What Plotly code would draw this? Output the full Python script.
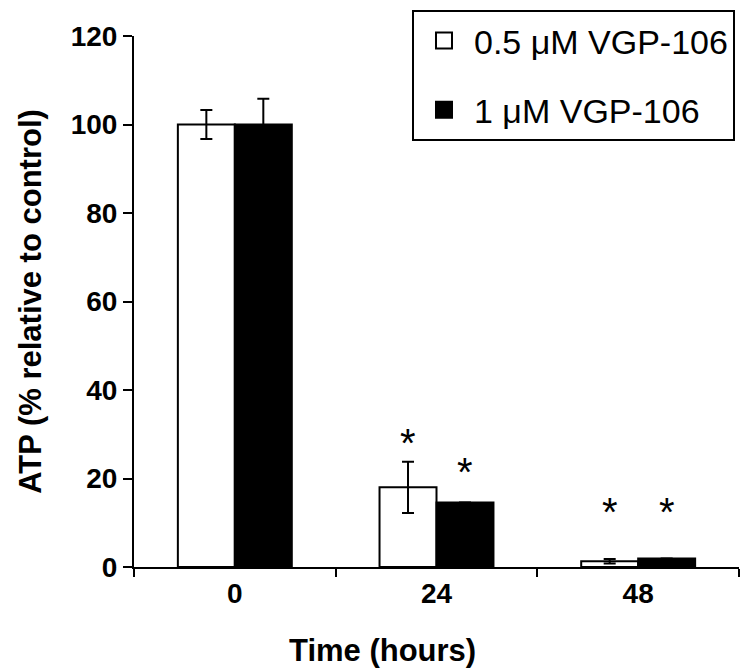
import plotly.graph_objects as go

categories = ["0", "24", "48"]
low_dose = [100, 18, 1.3]
low_err = [3.3, 5.8, 0.5]
high_dose = [100, 14.6, 1.9]
high_err = [5.8, 0, 0]
low_star = [None, 29.6, 14]
high_star = [None, 23, 14]
series_names = ["0.5 \u03bcM VGP-106", "1 \u03bcM VGP-106"]
y_ticks = [0, 20, 40, 60, 80, 100, 120]
x_title = "Time (hours)"
y_title = "ATP (% relative to control)"

FONT = "Liberation Sans, Arial, sans-serif"
bargap = 0.435

fig = go.Figure()
fig.add_trace(go.Bar(
    x=categories, y=low_dose, name=series_names[0], showlegend=False,
    marker=dict(color="white", line=dict(color="black", width=2)),
    error_y=dict(type="data", array=low_err, color="black", thickness=2, width=6),
))
fig.add_trace(go.Bar(
    x=categories, y=high_dose, name=series_names[1], showlegend=False,
    marker=dict(color="black", line=dict(color="black", width=2)),
    error_y=dict(type="data", array=high_err, color="black", thickness=2, width=6),
))
# legend entries
fig.add_trace(go.Scatter(
    x=[None], y=[None], mode="markers", name=series_names[0], legendgroup="a",
    marker=dict(symbol="square", size=22, color="white", line=dict(color="black", width=2)),
))
fig.add_trace(go.Scatter(
    x=[None], y=[None], mode="markers", name=series_names[1], legendgroup="b",
    marker=dict(symbol="square", size=22, color="black", line=dict(color="black", width=2)),
))

half = (1 - bargap) / 4
annotations = []
for i, (a, b) in enumerate(zip(low_star, high_star)):
    for val, off in ((a, -half), (b, half)):
        if val is not None:
            annotations.append(dict(
                x=i + off, y=val, xref="x", yref="y", text="*", showarrow=False,
                font=dict(family=FONT, size=40, color="black"), yanchor="middle", yshift=-7,
            ))
# x-axis title (off-centre, as in the original figure)
annotations.append(dict(
    x=0.41, y=-0.158, xref="paper", yref="paper", text=x_title, showarrow=False,
    xanchor="center", yanchor="middle",
    font=dict(family=FONT, size=31, color="black", weight="bold"),
))

fig.update_layout(
    width=750, height=672,
    margin=dict(l=126, r=19, t=28, b=113, autoexpand=False),
    paper_bgcolor="white", plot_bgcolor="white",
    barmode="group", bargap=bargap, bargroupgap=0,
    font=dict(family=FONT, color="black"),
    annotations=annotations,
    legend=dict(
        x=0.4595, y=1.049, xanchor="left", yanchor="top",
        bgcolor="white", bordercolor="black", borderwidth=2,
        font=dict(family=FONT, size=34, color="black"),
        traceorder="grouped", tracegroupgap=22, itemsizing="trace", itemwidth=50,
    ),
    xaxis=dict(
        type="category", range=[-0.5, 2.5], tickson="boundaries",
        ticks="outside", ticklen=8, tickwidth=2, tickcolor="black",
        showline=True, linecolor="black", linewidth=2, showgrid=False,
        tickfont=dict(family=FONT, size=28, weight="bold"), automargin=False,
    ),
    yaxis=dict(
        range=[0, 120], tickvals=y_ticks,
        ticks="outside", ticklen=9, tickwidth=2, tickcolor="black",
        showline=True, linecolor="black", linewidth=2, showgrid=False, zeroline=False,
        tickfont=dict(family=FONT, size=28, weight="bold"), automargin=False,
        title=dict(text=y_title, font=dict(family=FONT, size=31, weight="bold"), standoff=20),
    ),
)

fig.write_html("out.html")
